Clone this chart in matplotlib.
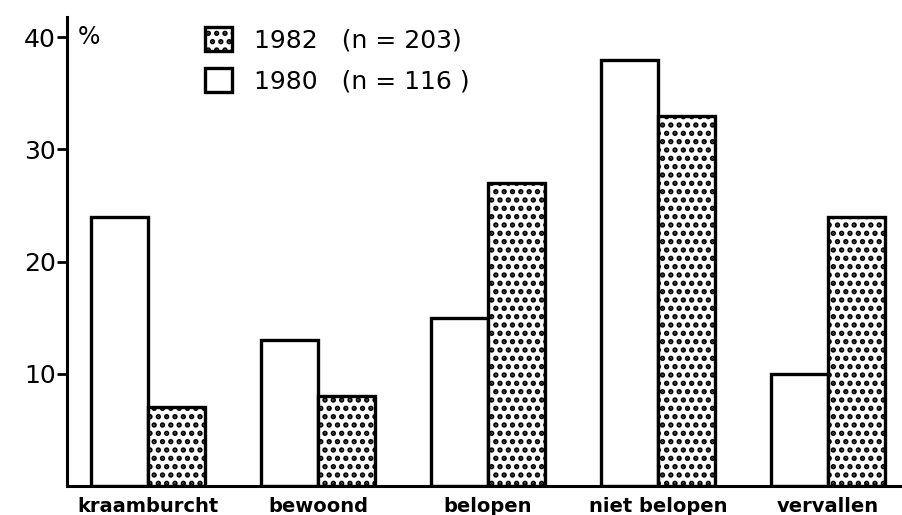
import numpy as np
import matplotlib
matplotlib.use('Agg')
import matplotlib.pyplot as plt

# data (% per category)
categories = ['kraamburcht', 'bewoond', 'belopen', 'niet belopen', 'vervallen']
pct_1980 = [24, 13, 15, 38, 10]
pct_1982 = [7, 8, 27, 33, 24]
label_1980 = '1980   (n = 116 )'
label_1982 = '1982   (n = 203)'
yticks = [10, 20, 30, 40]

plt.rcParams['font.family'] = ['DejaVu Sans']
plt.rcParams['hatch.linewidth'] = 2.6

fig = plt.figure(figsize=(9.02, 5.15), dpi=100)
ax = fig.add_axes([67 / 902, 1 - 486 / 515, 1 - 67 / 902, (486 - 17) / 515])

x = np.arange(len(categories))
w = 0.335
b80 = ax.bar(x - w / 2, pct_1980, w, color='white', edgecolor='black', linewidth=2.4,
             label=label_1980)
b82 = ax.bar(x + w / 2, pct_1982, w, color='white', edgecolor='black', linewidth=2.4,
             hatch='..', label=label_1982)

ax.set_xlim(-0.476, 4.435)
ax.set_ylim(0, 41.8)

ax.spines['top'].set_visible(False)
ax.spines['right'].set_visible(False)
ax.spines['left'].set_linewidth(2.2)
ax.spines['bottom'].set_linewidth(2.2)

ax.set_yticks(yticks)
ax.set_yticklabels([str(t) for t in yticks], fontsize=18)
ax.tick_params(axis='y', direction='out', length=7, width=2, pad=1)
ax.set_xticks(x)
ax.set_xticklabels(categories, fontsize=14, fontweight='bold')
ax.tick_params(axis='x', length=0, pad=8)

ax.text(0.013, 40, '%', transform=ax.get_yaxis_transform(), fontsize=17,
        va='center', ha='left')

leg = ax.legend(handles=[b82, b80], labels=[label_1982, label_1980],
                loc='upper left', bbox_to_anchor=(0.165, 0.978), frameon=False,
                borderaxespad=0, borderpad=0,
                fontsize=18, handlelength=1.1, handleheight=1.1,
                handletextpad=0.85, labelspacing=0.62)

fig.savefig('out.png', dpi=100)
